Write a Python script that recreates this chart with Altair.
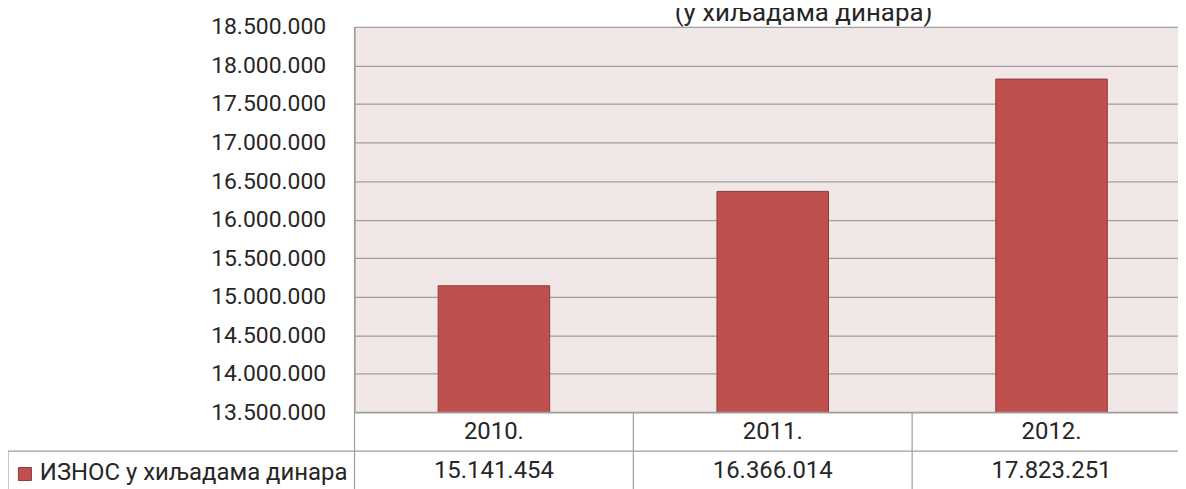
import altair as alt
import pandas as pd

# ---- data ----
years = ["2010.", "2011.", "2012."]
values = [15141454, 16366014, 17823251]
series_name = "ИЗНОС у хиљадама динара"
subtitle = "(у хиљадама динара)"
y_ticks = [13500000, 14000000, 14500000, 15000000, 15500000,
           16000000, 16500000, 17000000, 17500000, 18000000, 18500000]


def fmt(v):
    return f"{v:,}".replace(",", ".")


df = pd.DataFrame({"year": years, "value": values,
                   "label": [fmt(v) for v in values]})
one = pd.DataFrame({"d": [0]})

FONT = "Roboto"
FS = 23
FT = 24
TXT = "#262626"
GRID = "#9E9E9E"
PL = 351
W, H = 1178 - PL, 387

xscale = alt.Scale(domain=years, range=[0, 840], paddingInner=0.6, paddingOuter=0.3)
X = alt.X("year:N", scale=xscale, axis=None, sort=years)

bars = alt.Chart(df).mark_bar(color="#C0504D", stroke="#8E3A38", strokeWidth=1,
                              clip=True).encode(
    x=X,
    y=alt.Y("value:Q",
            scale=alt.Scale(domain=[y_ticks[0], y_ticks[-1]], zero=False, nice=False),
            axis=alt.Axis(values=y_ticks, title=None, ticks=False, labelPadding=29,
                          labelFont=FONT, labelFontSize=FS, labelColor=TXT,
                          labelExpr="replace(format(datum.value, ',d'), /,/g, '.')",
                          grid=True, gridColor=GRID, gridWidth=1.2,
                          domain=True, domainColor=GRID, domainWidth=1.2)),
)

# table texts
year_text = alt.Chart(df).mark_text(font=FONT, fontSize=FT, color=TXT,
                                    baseline="middle").encode(
    x=X, y=alt.value(406.5), text="year:N")
val_text = alt.Chart(df).mark_text(font=FONT, fontSize=FT, color=TXT,
                                   baseline="middle").encode(
    x=X, y=alt.value(446), text="label:N")


def rule(x, x2, y, y2):
    return alt.Chart(one).mark_rule(color=GRID, strokeWidth=1.2).encode(
        x=alt.value(x), x2=alt.value(x2), y=alt.value(y), y2=alt.value(y2))


rules = [
    rule(0, W, 387, 387),
    rule(-348, W, 426, 426),
    rule(0, 0, 0, 470),
    rule(280, 280, 387, 470),
    rule(560, 560, 387, 470),
    rule(-348, -348, 426, 470),
]

legend_sq = alt.Chart(one).mark_square(size=170, color="#C0504D", stroke="#8E3A38",
                                       strokeWidth=1, opacity=1).encode(
    x=alt.value(-331), y=alt.value(449))
legend_txt = alt.Chart(one).mark_text(font=FONT, fontSize=FT, color=TXT,
                                      align="left", baseline="middle").encode(
    x=alt.value(-316), y=alt.value(448), text=alt.value(series_name))

title_txt = alt.Chart(one).mark_text(font=FONT, fontSize=26, color=TXT,
                                     align="center", baseline="alphabetic").encode(
    x=alt.value(451), y=alt.value(-6), text=alt.value(subtitle))

chart = alt.layer(bars, year_text, val_text, *rules, legend_sq, legend_txt, title_txt).properties(
    width=W, height=H,
    autosize=alt.AutoSizeParams(type="none"),
    padding={"left": PL - 3, "top": 18, "right": 0, "bottom": 76},
    background="white",
).configure_view(fill="#F2E7E7", stroke=None)

chart.save("out.html", embed_options={"renderer": "svg", "actions": False})
